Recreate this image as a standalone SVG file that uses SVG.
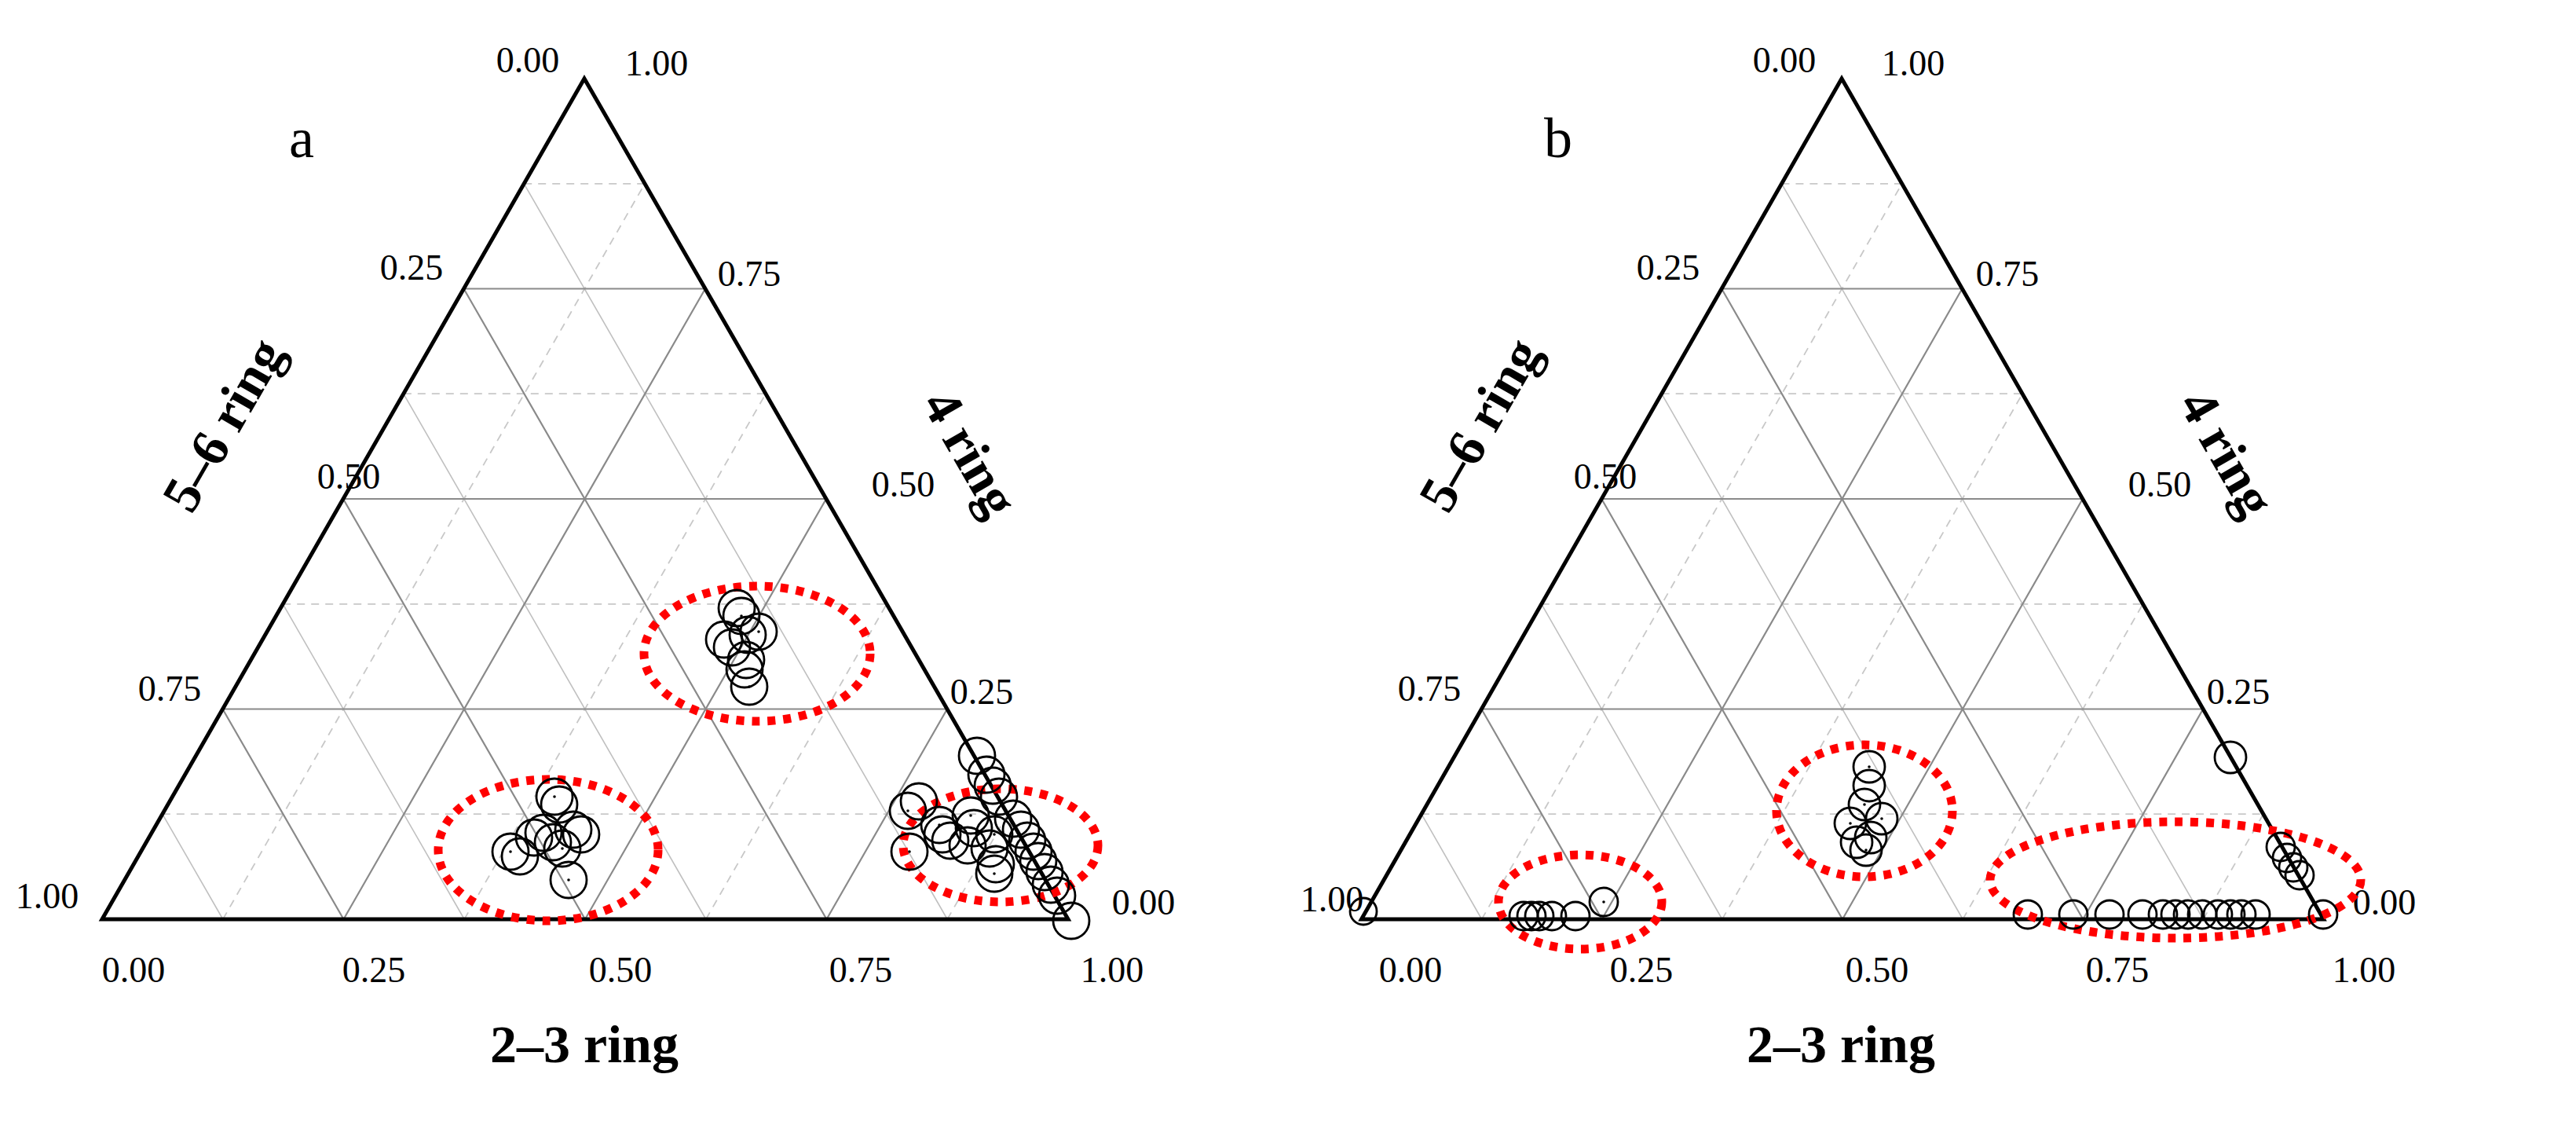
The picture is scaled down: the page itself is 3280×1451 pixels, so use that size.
<svg xmlns="http://www.w3.org/2000/svg" xmlns:xlink="http://www.w3.org/1999/xlink" width="3280" height="1451" viewBox="0 0 3280 1451">
<style>
.maj{stroke:#8a8a8a;stroke-width:1.1;fill:none}
.minh{stroke:#c8c8c8;stroke-width:0.9;stroke-dasharray:5 4;fill:none}
.mins{stroke:#c0c0c0;stroke-width:0.8;fill:none}
.edge{stroke:#000;stroke-width:2.5;fill:none}
.pt{fill:none;stroke:#000;stroke-width:1.4}
.dot{fill:#000}
.ell{fill:none;stroke:#f00;stroke-width:5.5;stroke-dasharray:5 5}
text{font-family:"Liberation Serif","Times New Roman",serif;fill:#000;text-anchor:middle}
.tk{font-size:23px}
.ax{font-size:34px;font-weight:bold}
.lt{font-size:36px}
</style>
<defs>
<g id="grid">
<path class="minh" d="M103.4,518.1H641.5M180.1,384.4H564.5M256.9,250.6H487.5M333.6,116.9H410.5"/>
<path class="minh" d="M141.9,585L410.5,116.9M295.6,585L487.5,250.6M449.4,585L564.5,384.4M603.1,585L641.5,518.1"/>
<path class="mins" d="M141.9,585L103.4,518.1M295.6,585L180.1,384.4M449.4,585L256.9,250.6M603.1,585L333.6,116.9"/>
<path class="maj" d="M141.75,451.25H603M218.5,317.5H526M295.25,183.75H449"/>
<path class="maj" d="M218.75,585L449,183.75M372.5,585L526,317.5M526.25,585L603,451.25"/>
<path class="maj" d="M218.75,585L141.75,451.25M372.5,585L218.5,317.5M526.25,585L295.25,183.75"/>
<path class="edge" d="M65,585L372,50L680,585Z"/>
</g>
</defs>
<g transform="scale(2)">
<g id="panel-a">
<use xlink:href="#grid"/>
<g id="labels-a">
<text class="lt" x="192" y="100">a</text>
<text class="tk" x="336" y="46">0.00</text>
<text class="tk" x="418" y="48">1.00</text>
<text class="tk" x="262" y="178">0.25</text>
<text class="tk" x="477" y="182">0.75</text>
<text class="tk" x="222" y="311">0.50</text>
<text class="tk" x="575" y="316">0.50</text>
<text class="tk" x="108" y="446">0.75</text>
<text class="tk" x="625" y="448">0.25</text>
<text class="tk" x="30" y="578">1.00</text>
<text class="tk" x="728" y="582">0.00</text>
<text class="tk" x="85" y="625">0.00</text>
<text class="tk" x="238" y="625">0.25</text>
<text class="tk" x="395" y="625">0.50</text>
<text class="tk" x="548" y="625">0.75</text>
<text class="tk" x="708" y="625">1.00</text>
<text class="ax" x="372" y="676">2–3 ring</text>
<text class="ax" transform="translate(152,276) rotate(-60)">5–6 ring</text>
<text class="ax" transform="translate(608,294) rotate(60)">4 ring</text>
</g>
<g id="cluster-a1">
<ellipse class="ell" cx="482" cy="416" rx="72" ry="43"/>
<circle class="pt" cx="469" cy="387" r="11.5"/><circle class="pt" cx="472" cy="392" r="11.5"/>
<circle class="pt" cx="461" cy="407" r="11.5"/><circle class="pt" cx="466" cy="412" r="11.5"/>
<circle class="pt" cx="476" cy="404" r="11.5"/><circle class="pt" cx="483" cy="402" r="11.5"/>
<circle class="pt" cx="475" cy="420" r="11.5"/><circle class="pt" cx="474" cy="426" r="11.5"/>
<circle class="pt" cx="477" cy="437" r="11.5"/>
<circle class="dot" cx="472" cy="392" r="0.9"/><circle class="dot" cx="483" cy="402" r="0.9"/><circle class="dot" cx="477" cy="437" r="0.9"/>
</g>
<g id="cluster-a2">
<ellipse class="ell" cx="349" cy="541" rx="70" ry="45"/>
<circle class="pt" cx="353" cy="507" r="11.5"/><circle class="pt" cx="356" cy="512" r="11.5"/>
<circle class="pt" cx="340" cy="533" r="11.5"/><circle class="pt" cx="346" cy="530" r="11.5"/>
<circle class="pt" cx="365" cy="528" r="11.5"/><circle class="pt" cx="370" cy="531" r="11.5"/>
<circle class="pt" cx="352" cy="536" r="11.5"/><circle class="pt" cx="358" cy="540" r="11.5"/>
<circle class="pt" cx="325" cy="542" r="11.5"/><circle class="pt" cx="331" cy="545" r="11.5"/>
<circle class="pt" cx="362" cy="560" r="11.5"/>
<circle class="dot" cx="353" cy="507" r="0.9"/><circle class="dot" cx="358" cy="540" r="0.9"/><circle class="dot" cx="325" cy="542" r="0.9"/><circle class="dot" cx="362" cy="560" r="0.9"/>
</g>
<g id="cluster-a3">
<ellipse class="ell" cx="637" cy="538" rx="62" ry="36"/>
<circle class="pt" cx="622" cy="481" r="11.5"/><circle class="pt" cx="628" cy="493" r="11.5"/>
<circle class="pt" cx="632" cy="500" r="11.5"/><circle class="pt" cx="636" cy="507" r="11.5"/>
<circle class="pt" cx="645" cy="521" r="11.5"/><circle class="pt" cx="650" cy="528" r="11.5"/>
<circle class="pt" cx="654" cy="535" r="11.5"/><circle class="pt" cx="658" cy="542" r="11.5"/>
<circle class="pt" cx="661" cy="548" r="11.5"/><circle class="pt" cx="665" cy="555" r="11.5"/>
<circle class="pt" cx="669" cy="563" r="11.5"/><circle class="pt" cx="673" cy="570" r="11.5"/>
<circle class="pt" cx="682" cy="586" r="11.5"/>
<circle class="pt" cx="585" cy="510" r="11.5"/><circle class="pt" cx="578" cy="516" r="11.5"/>
<circle class="pt" cx="579" cy="542" r="11.5"/>
<circle class="pt" cx="598" cy="525" r="11.5"/><circle class="pt" cx="600" cy="531" r="11.5"/>
<circle class="pt" cx="605" cy="535" r="11.5"/><circle class="pt" cx="618" cy="519" r="11.5"/>
<circle class="pt" cx="620" cy="527" r="11.5"/><circle class="pt" cx="633" cy="531" r="11.5"/>
<circle class="pt" cx="630" cy="540" r="11.5"/><circle class="pt" cx="634" cy="550" r="11.5"/>
<circle class="pt" cx="633" cy="556" r="11.5"/><circle class="pt" cx="616" cy="538" r="11.5"/>
<circle class="dot" cx="578" cy="516" r="0.9"/><circle class="dot" cx="579" cy="542" r="0.9"/><circle class="dot" cx="598" cy="525" r="0.9"/>
<circle class="dot" cx="618" cy="519" r="0.9"/><circle class="dot" cx="633" cy="531" r="0.9"/><circle class="dot" cx="633" cy="556" r="0.9"/>
</g>
</g>
<g id="panel-b">
<use xlink:href="#grid" transform="translate(802,0) scale(0.996,1)"/>
<g id="labels-b">
<text class="lt" x="992" y="100">b</text>
<text class="tk" x="1136" y="46">0.00</text>
<text class="tk" x="1218" y="48">1.00</text>
<text class="tk" x="1062" y="178">0.25</text>
<text class="tk" x="1278" y="182">0.75</text>
<text class="tk" x="1022" y="311">0.50</text>
<text class="tk" x="1375" y="316">0.50</text>
<text class="tk" x="910" y="446">0.75</text>
<text class="tk" x="1425" y="448">0.25</text>
<text class="tk" x="848" y="580">1.00</text>
<text class="tk" x="1518" y="582">0.00</text>
<text class="tk" x="898" y="625">0.00</text>
<text class="tk" x="1045" y="625">0.25</text>
<text class="tk" x="1195" y="625">0.50</text>
<text class="tk" x="1348" y="625">0.75</text>
<text class="tk" x="1505" y="625">1.00</text>
<text class="ax" x="1172" y="676">2–3 ring</text>
<text class="ax" transform="translate(952,276) rotate(-60)">5–6 ring</text>
<text class="ax" transform="translate(1408,294) rotate(60)">4 ring</text>
</g>
<g id="cluster-b1">
<circle class="pt" cx="868" cy="580" r="8.5"/>
<ellipse class="ell" cx="1006" cy="574" rx="52" ry="30"/>
<circle class="pt" cx="970" cy="583" r="9"/><circle class="pt" cx="975" cy="583" r="9"/>
<circle class="pt" cx="980" cy="583" r="9"/><circle class="pt" cx="988" cy="583" r="9"/>
<circle class="pt" cx="1003" cy="583" r="9"/><circle class="pt" cx="1021" cy="574" r="9"/>
<circle class="dot" cx="1021" cy="574" r="0.9"/>
</g>
<g id="cluster-b2">
<ellipse class="ell" cx="1187" cy="516" rx="56" ry="42"/>
<circle class="pt" cx="1190" cy="488" r="10"/><circle class="pt" cx="1190" cy="500" r="10"/>
<circle class="pt" cx="1187" cy="512" r="10"/><circle class="pt" cx="1198" cy="521" r="10"/>
<circle class="pt" cx="1178" cy="524" r="10"/><circle class="pt" cx="1182" cy="536" r="10"/>
<circle class="pt" cx="1191" cy="533" r="10"/><circle class="pt" cx="1188" cy="541" r="10"/>
<circle class="dot" cx="1190" cy="488" r="0.9"/><circle class="dot" cx="1187" cy="512" r="0.9"/><circle class="dot" cx="1198" cy="521" r="0.9"/><circle class="dot" cx="1178" cy="524" r="0.9"/><circle class="dot" cx="1188" cy="541" r="0.9"/>
</g>
<g id="cluster-b3">
<circle class="pt" cx="1420" cy="482" r="10"/>
<ellipse class="ell" cx="1385" cy="560" rx="118" ry="37"/>
<circle class="pt" cx="1452" cy="539" r="9"/><circle class="pt" cx="1456" cy="546" r="9"/>
<circle class="pt" cx="1460" cy="552" r="9"/><circle class="pt" cx="1464" cy="557" r="9"/>
<circle class="pt" cx="1291" cy="582" r="9"/><circle class="pt" cx="1320" cy="582" r="9"/>
<circle class="pt" cx="1343" cy="582" r="9"/><circle class="pt" cx="1364" cy="582" r="9"/>
<circle class="pt" cx="1377" cy="582" r="9"/><circle class="pt" cx="1385" cy="582" r="9"/>
<circle class="pt" cx="1393" cy="582" r="9"/><circle class="pt" cx="1402" cy="582" r="9"/>
<circle class="pt" cx="1412" cy="582" r="9"/><circle class="pt" cx="1420" cy="582" r="9"/>
<circle class="pt" cx="1427" cy="582" r="9"/><circle class="pt" cx="1436" cy="582" r="9"/>
<circle class="pt" cx="1479" cy="582" r="9"/>
</g>
</g>
</g>
</svg>
